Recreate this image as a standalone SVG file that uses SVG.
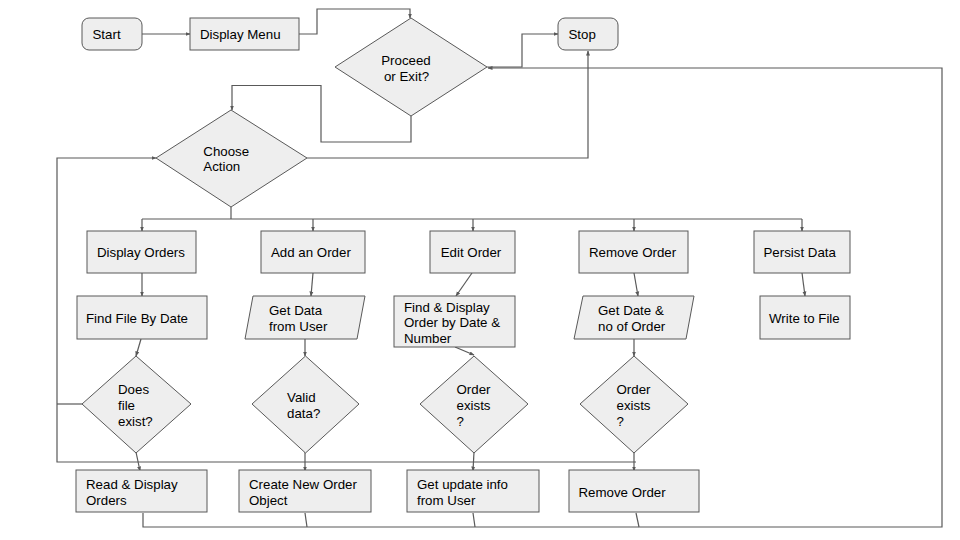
<svg xmlns="http://www.w3.org/2000/svg" width="960" height="540" viewBox="0 0 960 540">
<defs>
<marker id="ah" viewBox="0 0 10 10" refX="9" refY="5" markerWidth="5" markerHeight="5" orient="auto" markerUnits="userSpaceOnUse">
<path d="M0,1 L10,5 L0,9 Z" fill="#595959"/>
</marker>
<style>
.n{fill:#eeeeee;stroke:#595959;stroke-width:1}
.t{font-family:"Liberation Sans",Arial,sans-serif;font-size:13.3px;fill:#000}
.c{fill:none;stroke:#595959;stroke-width:1.2}
.a{marker-end:url(#ah)}
</style>
</defs>
<rect width="960" height="540" fill="#fff"/>
<g id="connectors">
<path class="c a" d="M142,34 H190"/>
<path class="c a" d="M299,34 H317 V9 H410 V18"/>
<path class="c a" d="M411,116 V142 H321 V85.5 H232 V110"/>
<path class="c a" d="M487,67 H522 V34 H558"/>
<path class="c a" d="M307,158 H588 V51"/>
<path class="c a" d="M143,513 V527 H942 V68 H488"/>
<path class="c" d="M305,513 L307,527"/>
<path class="c" d="M473,513 L475,527"/>
<path class="c" d="M636,513 L639,527"/>
<path class="c a" d="M636,462 H57 V158 H156"/>
<path class="c" d="M82,404 H57"/>
<path class="c" d="M231,207 V219"/>
<path class="c" d="M142,219 H802"/>
<path class="c a" d="M142,219 V231"/>
<path class="c a" d="M313,219 V231"/>
<path class="c a" d="M473,219 V231"/>
<path class="c a" d="M634,219 V231"/>
<path class="c a" d="M802,219 V231"/>
<path class="c a" d="M142,273 V296"/>
<path class="c a" d="M313,273 L311,296"/>
<path class="c a" d="M472,273 L456,296"/>
<path class="c a" d="M634,273 L638,296"/>
<path class="c a" d="M802,273 L805,296"/>
<path class="c a" d="M141,339 L136,356"/>
<path class="c a" d="M305,339 V356"/>
<path class="c a" d="M455,347 L474,355"/>
<path class="c a" d="M634,339 V356"/>
<path class="c a" d="M136,452 L140,471"/>
<path class="c a" d="M305,452 V471"/>
<path class="c a" d="M474,452 L473,471"/>
<path class="c a" d="M634,452 V471"/>
</g>
<g id="start"><rect class="n" x="82" y="18" width="60" height="32" rx="7"/><text class="t" x="92.5" y="39">Start</text></g>
<g id="display-menu"><rect class="n" x="190" y="18" width="109" height="32"/><text class="t" x="200" y="39">Display Menu</text></g>
<g id="proceed"><path class="n" d="M411,18 L487,67 L411,116 L335,67 Z"/><text class="t" x="406" y="64.6" text-anchor="middle">Proceed</text><text class="t" x="406.5" y="80.6" text-anchor="middle">or Exit?</text></g>
<g id="stop"><rect class="n" x="558" y="18" width="60" height="32" rx="7"/><text class="t" x="568.5" y="39">Stop</text></g>
<g id="choose-action"><path class="n" d="M231,110 L307,158 L231,207 L156,158 Z"/><text class="t" x="203.3" y="156.3">Choose</text><text class="t" x="203.3" y="171.3">Action</text></g>
<g id="display-orders"><rect class="n" x="87" y="231" width="109" height="42"/><text class="t" x="97" y="256.6">Display Orders</text></g>
<g id="add-order"><rect class="n" x="261" y="231" width="104" height="42"/><text class="t" x="271" y="256.6">Add an Order</text></g>
<g id="edit-order"><rect class="n" x="430" y="231" width="85" height="42"/><text class="t" x="440.7" y="256.6">Edit Order</text></g>
<g id="remove-order"><rect class="n" x="579" y="231" width="109" height="42"/><text class="t" x="589" y="256.6">Remove Order</text></g>
<g id="persist-data"><rect class="n" x="754" y="231" width="96" height="42"/><text class="t" x="763.5" y="256.6">Persist Data</text></g>
<g id="find-file"><rect class="n" x="77" y="296" width="130" height="43"/><text class="t" x="86" y="323.3">Find File By Date</text></g>
<g id="get-data"><path class="n" d="M253,296 H365 L357,339 H245 Z"/><text class="t" x="269" y="315.3">Get Data</text><text class="t" x="269" y="330.6">from User</text></g>
<g id="find-display"><rect class="n" x="394" y="296" width="121" height="51"/><text class="t" x="404" y="311.9">Find &amp; Display</text><text class="t" x="404" y="327.3">Order by Date &amp;</text><text class="t" x="404" y="342.6">Number</text></g>
<g id="get-date"><path class="n" d="M583,296 H694 L686,339 H574 Z"/><text class="t" x="598" y="315.3">Get Date &amp;</text><text class="t" x="598" y="330.6">no of Order</text></g>
<g id="write-file"><rect class="n" x="760" y="296" width="90" height="43"/><text class="t" x="769" y="322.6">Write to File</text></g>
<g id="file-exist"><path class="n" d="M136,356 L191,404 L136,453 L82,404 Z"/><text class="t" x="118" y="393.6">Does</text><text class="t" x="118" y="409.6">file</text><text class="t" x="118" y="425.6">exist?</text></g>
<g id="valid-data"><path class="n" d="M305.5,356 L359,404 L305.5,453 L252,404 Z"/><text class="t" x="287" y="401.6">Valid</text><text class="t" x="287" y="417.6">data?</text></g>
<g id="order-exists-edit"><path class="n" d="M474,356 L528,404 L474,453 L420,404 Z"/><text class="t" x="456.5" y="393.6">Order</text><text class="t" x="456.5" y="409.6">exists</text><text class="t" x="456.5" y="425.6">?</text></g>
<g id="order-exists-remove"><path class="n" d="M634,356 L688,404 L634,453 L580,404 Z"/><text class="t" x="616.5" y="393.6">Order</text><text class="t" x="616.5" y="409.6">exists</text><text class="t" x="616.5" y="425.6">?</text></g>
<g id="read-display"><rect class="n" x="76" y="470" width="131" height="42"/><text class="t" x="86" y="488.6">Read &amp; Display</text><text class="t" x="86" y="504.6">Orders</text></g>
<g id="create-order"><rect class="n" x="239" y="470" width="132" height="42"/><text class="t" x="249" y="488.6">Create New Order</text><text class="t" x="249" y="504.6">Object</text></g>
<g id="get-update"><rect class="n" x="407" y="470" width="132" height="42"/><text class="t" x="417" y="488.6">Get update info</text><text class="t" x="417" y="504.6">from User</text></g>
<g id="remove-order-action"><rect class="n" x="569" y="470" width="130" height="42"/><text class="t" x="578.5" y="496.6">Remove Order</text></g>
</svg>
